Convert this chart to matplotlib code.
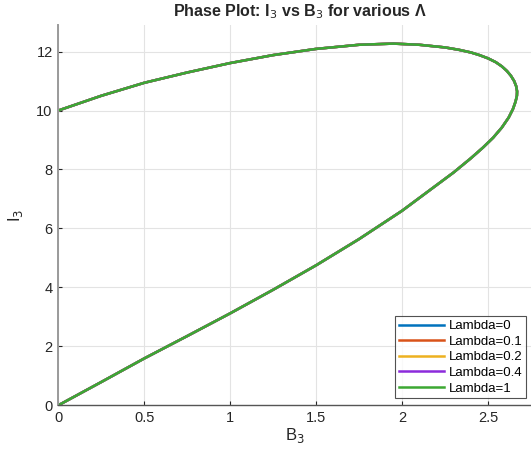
import matplotlib
matplotlib.use("Agg")
import matplotlib.pyplot as plt

# curve (same for every Lambda, green drawn on top)
B3 = [0, 0.25, 0.5, 0.75, 1.0, 1.25, 1.5, 1.75, 2.0, 2.15, 2.3, 2.4, 2.47, 2.53,
      2.58, 2.62, 2.645, 2.66, 2.668, 2.669, 2.664, 2.652, 2.633, 2.61, 2.58,
      2.545, 2.5, 2.45, 2.4, 2.33, 2.25, 2.1, 1.95, 1.75, 1.5, 1.25, 1.0, 0.75,
      0.5, 0.25, 0]
I3 = [0, 0.79, 1.59, 2.35, 3.12, 3.92, 4.75, 5.64, 6.6, 7.25, 7.9, 8.38, 8.74, 9.08,
      9.42, 9.76, 10.05, 10.3, 10.5, 10.65, 10.82, 11.0, 11.18, 11.34, 11.5,
      11.64, 11.77, 11.88, 11.97, 12.06, 12.14, 12.23, 12.27, 12.23, 12.09, 11.88,
      11.61, 11.29, 10.94, 10.5, 10.0]

lambdas = ['0', '0.1', '0.2', '0.4', '1']
colors = ['#0072BD', '#D95319', '#EDB120', '#8C2BDB', '#3CA832']

plt.rcParams['font.family'] = ['Liberation Sans', 'DejaVu Sans']

fig = plt.figure(figsize=(5.31, 4.55), dpi=100)
ax = fig.add_axes([0.1098, 0.1092, 1 - 0.1098, 0.945 - 0.1092])

for lam, c in zip(lambdas, colors):
    ax.plot(B3, I3, color=c, linewidth=1.8, label='Lambda=' + lam)

ax.set_xlim(0, 2.75)
ax.set_ylim(0, 12.9)
ax.set_xticks([0, 0.5, 1, 1.5, 2, 2.5])
ax.set_xticklabels(['0', '0.5', '1', '1.5', '2', '2.5'])
ax.set_yticks([0, 2, 4, 6, 8, 10, 12])
ax.grid(True, color='#e3e3e3', linewidth=0.8)
ax.set_axisbelow(True)

for s in ['top', 'right']:
    ax.spines[s].set_visible(False)
ax.spines['left'].set_color('#9a9a9a')
ax.spines['left'].set_linewidth(1.4)
ax.spines['bottom'].set_color('#555555')
ax.spines['bottom'].set_linewidth(1.0)
ax.tick_params(labelsize=10.5, colors='#262626', length=3, direction='in',
               width=0.8, pad=4)

ax.set_xlabel('B$_3$', fontsize=12, color='#262626', labelpad=1)
ax.set_ylabel('I$_3$', fontsize=12, color='#262626', labelpad=8)
t = ax.set_title('Phase Plot: I$_3$ vs B$_3$ for various Λ', fontsize=11.5,
                 fontweight='bold', color='#262626', pad=6)
t.set_x(0.512)

leg = ax.legend(loc='lower right', fontsize=9.5, frameon=True, fancybox=False,
                edgecolor='#262626', borderpad=0.3, labelspacing=0.25,
                handlelength=3.4, handletextpad=0.35, borderaxespad=0,
                bbox_to_anchor=(0.99, 0.018))
leg.get_frame().set_linewidth(0.8)

fig.savefig('out.png', dpi=100)
